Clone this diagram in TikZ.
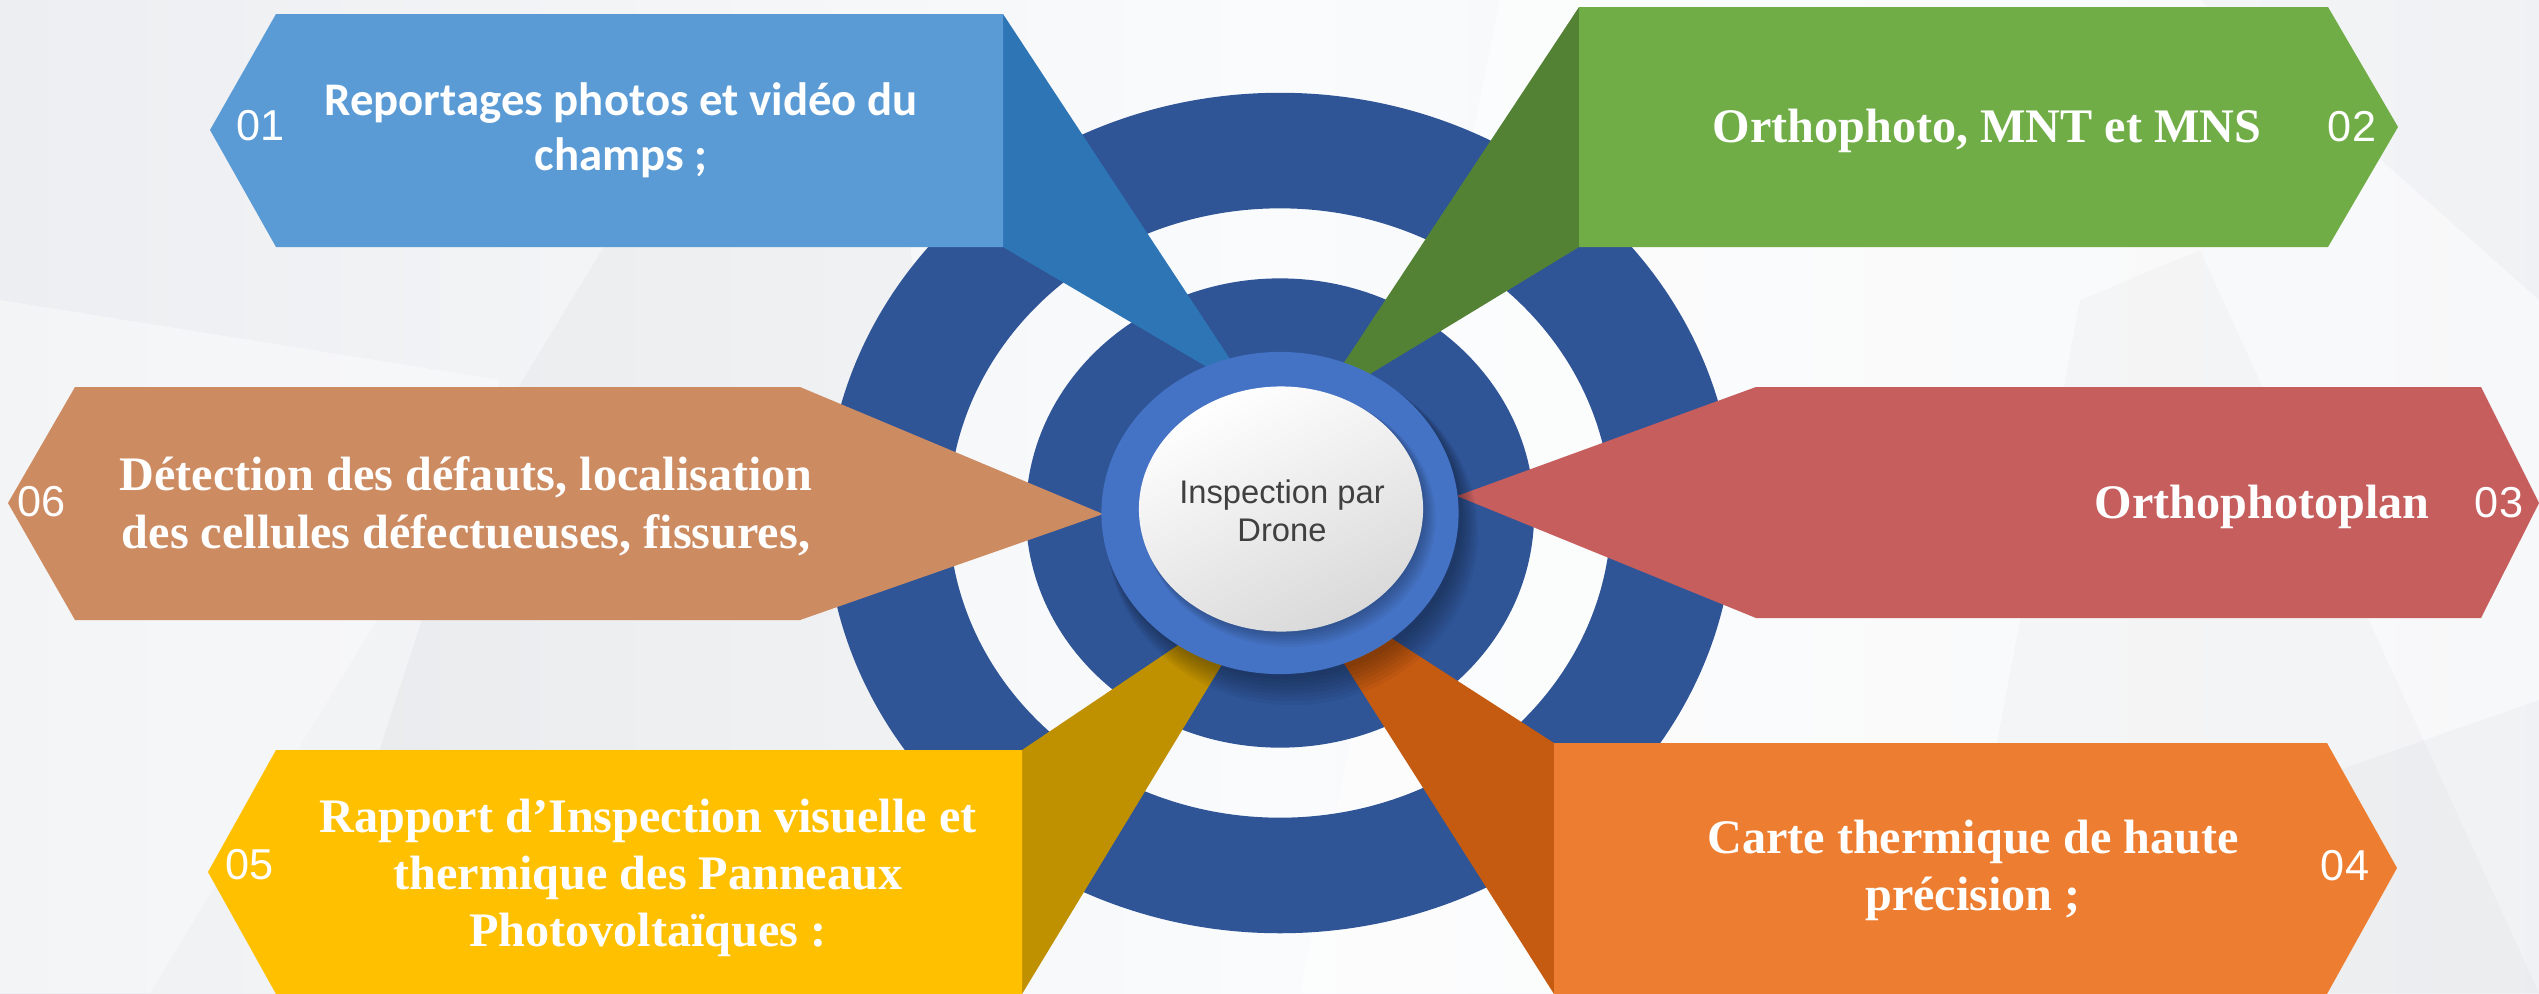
\documentclass[tikz,border=0pt]{standalone}
\usepackage{fontspec}
\setmainfont{Liberation Serif}
\newfontfamily\carlitofont{Carlito}
\newfontfamily\arialfont{Liberation Sans}
\definecolor{ringdark}{HTML}{2F5597}
\definecolor{ringlight}{HTML}{4472C4}
\definecolor{cA}{HTML}{5B9BD5}
\definecolor{cAd}{HTML}{2E75B6}
\definecolor{cB}{HTML}{70AD47}
\definecolor{cBd}{HTML}{548235}
\definecolor{cC}{HTML}{C65E5E}
\definecolor{cF}{HTML}{CD8B62}
\definecolor{cE}{HTML}{FFC000}
\definecolor{cEd}{HTML}{BF9000}
\definecolor{cD}{HTML}{ED7D31}
\definecolor{cDd}{HTML}{C55A11}
\definecolor{textgray}{HTML}{404040}
\definecolor{bgA}{HTML}{ECEEF1}
\definecolor{bgB}{HTML}{FAFBFC}
\tikzset{
  serifline/.style={text=white, font=\bfseries\fontsize{13.7}{16}\selectfont, anchor=base, inner sep=0pt},
  sansline/.style={text=white, font=\carlitofont\bfseries\fontsize{13.3}{16}\selectfont, anchor=base, inner sep=0pt},
  numlabel/.style={text=white, font=\arialfont\fontsize{12.3}{14}\selectfont, inner sep=0pt},
  centerline/.style={text=textgray, font=\arialfont\fontsize{9.3}{11}\selectfont, anchor=base, inner sep=0pt},
  softshadow/.style={fill=black, opacity=0.045}
}
\begin{document}
\begin{tikzpicture}[x=0.01cm,y=-0.01cm]
\useasboundingbox (0,0) rectangle (2539,993);
% background
\shade[left color=bgA, right color=bgA!80, middle color=bgB] (0,0) rectangle (2539,993);
\fill[white, opacity=0.5] (1500,0) -- (2200,0) -- (2539,300) -- (2539,700) -- (1700,993) -- (1300,993) -- cycle;
\fill[black, opacity=0.025] (150,993) -- (620,220) -- (900,160) -- (1000,993) -- cycle;
\fill[black, opacity=0.02] (1950,993) -- (2080,300) -- (2200,250) -- (2539,993) -- cycle;
\fill[white, opacity=0.4] (0,300) -- (500,380) -- (300,993) -- (0,993) -- cycle;
% rings
\fill[ringdark, even odd rule] (1280,513) ellipse [x radius=4.54cm, y radius=4.20cm]
   (1280,513) ellipse [x radius=3.31cm, y radius=3.045cm];
\fill[ringdark] (1280,513) ellipse [x radius=2.54cm, y radius=2.345cm];
% banner 01
\fill[cAd] (1003,14) -- (1253,394) -- (1003,247) -- cycle;
\fill[cA] (210,130) -- (276,14) -- (1003,14) -- (1003,247) -- (276,247) -- cycle;
% banner 02
\fill[cBd] (1579,7) -- (1314,408) -- (1579,247) -- cycle;
\fill[cB] (1579,7) -- (2328,7) -- (2398,127) -- (2328,247) -- (1579,247) -- cycle;
% banner 03
\fill[cC] (1457,496) -- (1756,387) -- (2481,387) -- (2539,503) -- (2481,618) -- (1756,618) -- cycle;
% banner 06
\fill[cF] (8,503) -- (75,387) -- (800,387) -- (1103,514) -- (800,620) -- (75,620) -- cycle;
% banner 05
\fill[cEd] (1022,750) -- (1272,582) -- (1022,994) -- cycle;
\fill[cE] (208,872) -- (276,750) -- (1022,750) -- (1022,994) -- (276,994) -- cycle;
% banner 04
\fill[cDd] (1554,743) -- (1284,569) -- (1554,994) -- cycle;
\fill[cD] (1554,743) -- (2327,743) -- (2397,868) -- (2327,994) -- (1554,994) -- cycle;
% soft shadow of light ring
\foreach \k in {0,...,7} {
  \fill[softshadow] (1284+\k*1.2,518+\k*2.2) ellipse [x radius=1.785cm+\k*0.1mm, y radius=1.61cm+\k*0.15mm];
}
% light blue ring
\fill[ringlight] (1280,513) ellipse [x radius=1.785cm, y radius=1.61cm];
% soft shadow of white ellipse
\foreach \k in {0,...,5} {
  \fill[softshadow] (1283+\k*1.3,511+\k*1.6) ellipse [x radius=1.42cm+\k*0.08mm, y radius=1.225cm+\k*0.1mm];
}
% white ellipse
\shade[shading=axis, top color=white, bottom color=black!15, shading angle=25]
   (1281,509) ellipse [x radius=1.42cm, y radius=1.225cm];
% texts
\node[sansline] (t1a) at (621,115) {Reportages photos et vidéo du};
\node[sansline] (t1b) at (621,170) {champs ;};
\node[numlabel] (n1) at (261,126) {01};
\node[serifline] (t2) at (1987,142) {Orthophoto, MNT et MNS};
\node[numlabel] (n2) at (2352,127) {02};
\node[serifline] (t3) at (2262,518) {Orthophotoplan};
\node[numlabel] (n3) at (2499,503) {03};
\node[serifline] (t4a) at (1973,853) {Carte thermique de haute};
\node[serifline] (t4b) at (1973,910) {précision ;};
\node[numlabel] (n4) at (2345,866) {04};
\node[serifline] (t5a) at (648,832) {Rapport d’Inspection visuelle et};
\node[serifline] (t5b) at (648,889) {thermique des Panneaux};
\node[serifline] (t5c) at (648,946) {Photovoltaïques :};
\node[numlabel] (n5) at (250,865) {05};
\node[serifline] (t6a) at (466,490) {Détection des défauts, localisation};
\node[serifline] (t6b) at (466,548) {des cellules défectueuses, fissures,};
\node[numlabel] (n6) at (42,502) {06};
\node[centerline] (c1) at (1282,503) {Inspection par};
\node[centerline] (c2) at (1282,541) {Drone};
\end{tikzpicture}
\end{document}
